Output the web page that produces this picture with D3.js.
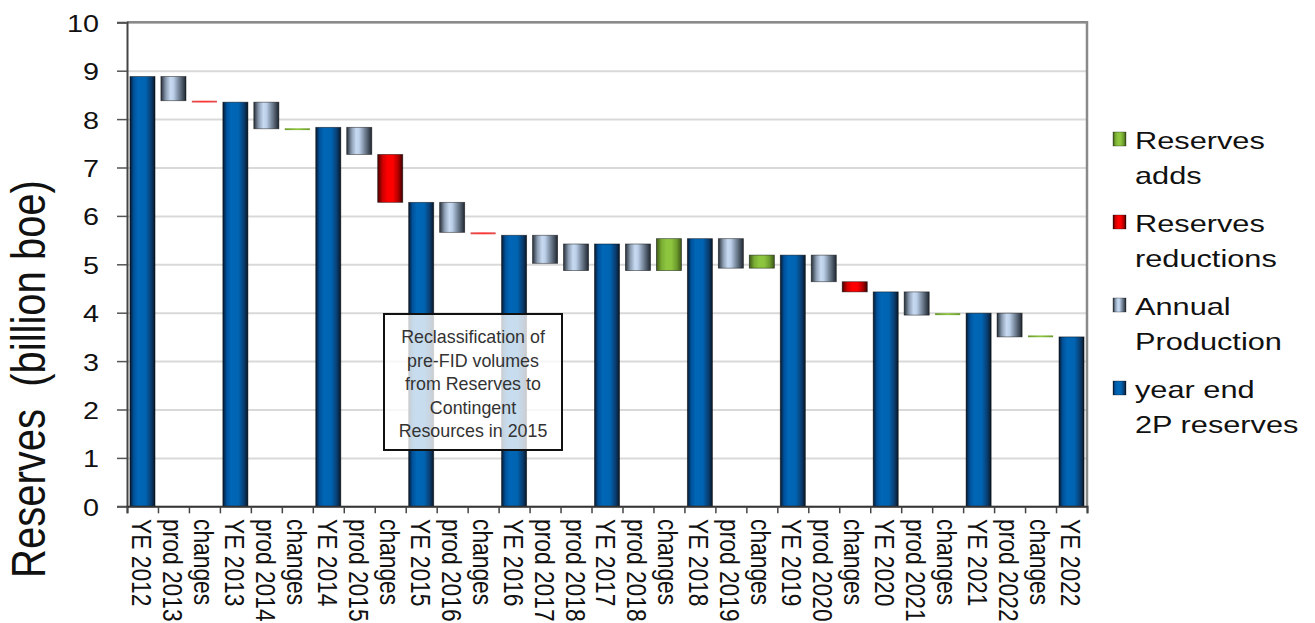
<!DOCTYPE html>
<html>
<head>
<meta charset="utf-8">
<script src="https://cdn.jsdelivr.net/npm/d3@7"></script>
<style>
  html, body { margin: 0; padding: 0; background: #fff; }
  svg { display: block; font-family: "Liberation Sans", Arial, sans-serif; }
</style>
</head>
<body>
<svg id="chart" width="1315" height="623"></svg>
<script>
// ---------- data ----------
const categories = [
  "YE 2012","prod 2013","changes","YE 2013","prod 2014","changes","YE 2014","prod 2015","changes",
  "YE 2015","prod 2016","changes","YE 2016","prod 2017","prod 2018","YE 2017","prod 2018","changes",
  "YE 2018","prod 2019","changes","YE 2019","prod 2020","changes","YE 2020","prod 2021","changes",
  "YE 2021","prod 2022","changes","YE 2022"
];
// kind: total = year end 2P reserves, prod = annual production, add = reserves adds, red = reserves reductions
const kinds = [
  "total","prod","red","total","prod","add","total","prod","red",
  "total","prod","red","total","prod","prod","total","prod","add",
  "total","prod","add","total","prod","red","total","prod","add",
  "total","prod","add","total"
];
const barTop = [
  8.88, 8.88, 8.38, 8.35, 8.35, 7.81, 7.83, 7.83, 7.27,
  6.28, 6.28, 5.66, 5.60, 5.60, 5.42, 5.42, 5.42, 5.53,
  5.53, 5.53, 5.19, 5.19, 5.19, 4.64, 4.43, 4.43, 3.99,
  3.99, 3.99, 3.53, 3.50
];
const barBottom = [
  0, 8.38, 8.35, 0, 7.80, 7.78, 0, 7.27, 6.28,
  0, 5.66, 5.62, 0, 5.02, 4.87, 0, 4.87, 4.87,
  0, 4.92, 4.92, 0, 4.64, 4.43, 0, 3.95, 3.95,
  0, 3.50, 3.50, 0
];
const yTicks = [0,1,2,3,4,5,6,7,8,9,10];
const legendKinds = ["add","red","prod","total"];
const legendLines = [["Reserves","adds"],["Reserves","reductions"],["Annual","Production"],["year end","2P reserves"]];
const noteLines = ["Reclassification of","pre-FID volumes","from Reserves to","Contingent","Resources in 2015"];

// ---------- layout ----------
const svg = d3.select("#chart");
const pLeft = 127, pRight = 1087, pTop = 22.3, pBottom = 506.3;
const SX = 1.25; // horizontal text stretch of the reference

const y = d3.scaleLinear().domain([0, 10]).range([pBottom, pTop]);
const x = d3.scaleBand().domain(d3.range(categories.length)).range([pLeft, pRight])
  .paddingInner(0.19).paddingOuter(0.095);
const xb = d3.scaleLinear().domain([0, categories.length]).range([pLeft, pRight]);

// ---------- gradients ----------
const defs = svg.append("defs");
const grads = {
  total: [[0,"#08182c"],[0.15,"#00519a"],[0.32,"#0066b6"],[0.62,"#0064b2"],[0.85,"#0a3c6e"],[1,"#081626"]],
  prod:  [[0,"#252e38"],[0.2,"#8e9fb4"],[0.38,"#c7daf1"],[0.5,"#bcd0ea"],[0.75,"#6b7a8c"],[1,"#1e2630"]],
  red:   [[0,"#4a0000"],[0.2,"#d00000"],[0.4,"#ff0000"],[0.6,"#ff0000"],[0.82,"#b00000"],[1,"#3d0000"]],
  add:   [[0,"#3f5a18"],[0.2,"#79ad33"],[0.4,"#8ec63f"],[0.6,"#8cc43e"],[0.82,"#6a9a2c"],[1,"#3a5416"]],
  redThin: [[0,"#e05050"],[0.5,"#ff3030"],[1,"#e05050"]],
  addThin: [[0,"#6a9a2c"],[0.5,"#8ec63f"],[1,"#6a9a2c"]]
};
Object.entries(grads).forEach(([k, stops]) => {
  const g = defs.append("linearGradient").attr("id", "g-" + k)
    .attr("x1", 0).attr("x2", 1).attr("y1", 0).attr("y2", 0);
  stops.forEach(s => g.append("stop").attr("offset", s[0]).attr("stop-color", s[1]));
});

// ---------- gridlines ----------
svg.append("g")
  .attr("transform", `translate(${pLeft},0)`)
  .call(d3.axisLeft(y).tickValues(yTicks).tickSize(-(pRight - pLeft)).tickFormat(""))
  .call(g => g.select(".domain").remove())
  .call(g => g.selectAll("line").attr("stroke", "#d9d9d9").attr("stroke-width", 2));

// plot border (top & right)
svg.append("path")
  .attr("d", `M${pLeft},${pTop}H${pRight}V${pBottom}`)
  .attr("fill", "none").attr("stroke", "#8a8a8a").attr("stroke-width", 2.5);

// ---------- bars ----------
const barH = i => y(barBottom[i]) - y(barTop[i]);
svg.append("g").selectAll("rect").data(categories).join("rect")
  .attr("x", (d, i) => x(i))
  .attr("width", x.bandwidth())
  .attr("y", (d, i) => y(barTop[i]))
  .attr("height", (d, i) => Math.max(1.8, barH(i)))
  .attr("fill", (d, i) => barH(i) < 3 ? `url(#g-${kinds[i]}Thin)` : `url(#g-${kinds[i]})`)
  .attr("stroke", (d, i) => barH(i) < 3 ? "none" : "rgba(0,0,0,0.55)")
  .attr("stroke-width", 0.8);

// ---------- axes ----------
const yAxis = svg.append("g")
  .attr("transform", `translate(${pLeft},0)`)
  .call(d3.axisLeft(y).tickValues(yTicks).tickSize(10).tickFormat(""));
yAxis.select(".domain").attr("stroke", "#444").attr("stroke-width", 2);
yAxis.selectAll(".tick line").attr("stroke", "#555").attr("stroke-width", 1.5);

svg.append("g").selectAll("text").data(yTicks).join("text")
  .attr("transform", d => `translate(99,${y(d) + 9.5}) scale(${SX},1)`)
  .attr("text-anchor", "end")
  .attr("font-size", 23).attr("fill", "#111")
  .text(d => d);

const xAxis = svg.append("g")
  .attr("transform", `translate(0,${pBottom})`)
  .call(d3.axisBottom(xb).tickValues(d3.range(categories.length + 1)).tickSize(7).tickFormat(""));
xAxis.select(".domain").attr("stroke", "#333").attr("stroke-width", 2);
xAxis.selectAll(".tick line").attr("stroke", "#444").attr("stroke-width", 1.5);

svg.append("g").selectAll("text").data(categories).join("text")
  .attr("transform", (d, i) => `translate(${x(i) + x.bandwidth() / 2},519) scale(${SX},1) rotate(90)`)
  .attr("dy", 8.4)
  .attr("font-size", 22.8).attr("fill", "#111")
  .text(d => d);

// y axis title
svg.append("text")
  .attr("transform", `translate(45,379) scale(1.2,1) rotate(-90)`)
  .attr("text-anchor", "middle")
  .attr("font-size", 40).attr("fill", "#111")
  .style("white-space", "pre")
  .text("Reserves  (billion boe)");

// ---------- annotation ----------
const note = svg.append("g");
note.append("rect")
  .attr("x", 384).attr("y", 314).attr("width", 178).attr("height", 136)
  .attr("fill", "rgba(255,255,255,0.78)").attr("stroke", "#111").attr("stroke-width", 2);
note.selectAll("text").data(noteLines).join("text")
  .attr("x", 473).attr("y", (d, i) => 343.5 + i * 23.5)
  .attr("text-anchor", "middle")
  .attr("font-size", 17.5).attr("fill", "#333")
  .attr("transform", "translate(473,0) scale(1.02,1) translate(-473,0)")
  .text(d => d);

// ---------- legend ----------
const lg = svg.append("g");
legendKinds.forEach((k, i) => {
  const base = 149 + i * 83;
  lg.append("rect")
    .attr("x", 1113).attr("y", base - 17).attr("width", 13).attr("height", 14)
    .attr("fill", `url(#g-${k})`).attr("stroke", "rgba(0,0,0,0.5)").attr("stroke-width", 0.6);
  legendLines[i].forEach((t, j) => {
    lg.append("text")
      .attr("transform", `translate(1135,${base + j * 34.5}) scale(${SX},1)`)
      .attr("font-size", 24.6).attr("fill", "#111")
      .text(t);
  });
});
</script>
</body>
</html>
